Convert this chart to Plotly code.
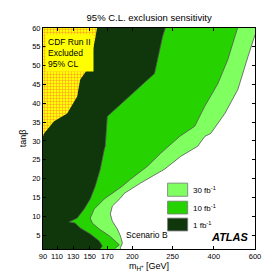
import numpy as np
import plotly.graph_objects as go

# ---- data (GeV, tan beta) ----
x_ticks = [90, 110, 130, 150, 170, 200, 250, 400, 600]
y_ticks = [5, 10, 15, 20, 25, 30, 35, 40, 45, 50, 55, 60]

# 30 fb-1 exclusion boundary (top -> bottom)
m30 = [600, 565.9, 517, 453.7, 389, 367, 341.4, 279.3, 240, 210, 190.4, 185.6, 176, 173.6, 176, 182, 185.6, 188, 185.6]
t30 = [58.2, 52.4, 43.7, 37.3, 32.0, 31.2, 28.6, 25.9, 22.5, 18.8, 16.1, 14.8, 12.7, 10.6, 8.7, 6.6, 4.8, 2.9, 1.6]

# 10 fb-1 exclusion boundary
m10 = [517, 502, 468, 419.5, 367, 330.5, 275.6, 235, 218.8, 197.6, 188, 166.6, 155.1, 150.6, 152.9, 160.9, 172.4, 179.6, 184.4, 178.4]
t10 = [60.3, 57.7, 51.6, 45.2, 39.2, 33.9, 31.2, 26.7, 23.3, 19.8, 18.0, 14.6, 11.9, 9.5, 8.2, 6.6, 4.8, 3.4, 2.4, 1.3]

# 1 fb-1 exclusion boundary
m1 = [241.3, 237.5, 227.5, 200, 172.4, 170, 167.7, 166.6, 162, 156.3, 150.6, 143.3, 134.8, 125, 132.4, 138.5, 150.6, 160.9, 164.3, 162]
t1 = [60.3, 57.7, 47.9, 42.6, 37.0, 36.5, 28.6, 27.8, 22.5, 18.0, 14.6, 11.9, 9.5, 8.5, 8.2, 6.9, 5.3, 3.4, 2.1, 1.3]

# CDF Run II excluded region boundary
m_cdf = [90, 91.4, 105.7, 122.5, 134.8, 138.5, 149.4, 155.1, 158.6]
t_cdf = [31.2, 32.0, 35.2, 37.3, 41.8, 46.3, 49.7, 55.8, 60.3]

# ---- non-linear mass axis scale ----
knots_gev = [70, 90, 110, 130, 150, 170, 200, 250, 400, 600, 800]
knots_u = [22, 36, 50, 66, 82.5, 100, 125, 165, 206, 247, 288]


def xmap(g):
    return np.interp(np.asarray(g, dtype=float), knots_gev, knots_u)


LIGHT = '#80ff60'
MED = '#26d300'
DARK = '#10360b'
EDGE = '#555555'

fig = go.Figure()


def region(m, t, color, top_right=False):
    if top_right:
        xs = [80, 700, 700] + list(m) + [m[-1], 80]
        ys = [62, 62, t[0]] + list(t) + [0, 0]
    else:
        xs = [80, m[0]] + list(m) + [m[-1], 80]
        ys = [62, 62] + list(t) + [0, 0]
    fig.add_trace(go.Scatter(x=xmap(xs), y=ys, mode='lines', fill='toself',
                             fillcolor=color, line=dict(color=EDGE, width=0.8),
                             hoverinfo='skip', showlegend=False))


region(m30, t30, LIGHT, top_right=True)
region(m10, t10, MED)
region(m1, t1, DARK)

# CDF hatched (grid) region
cx = [80] + m_cdf + [m_cdf[-1], 80]
cy = [t_cdf[0]] + t_cdf + [62, 62]
fig.add_trace(go.Scatter(x=xmap(cx), y=cy, mode='lines', fill='toself',
                         fillcolor='#ffff00',
                         fillpattern=dict(shape='-', fgcolor='#ff9430', bgcolor='#ffff00',
                                          size=3, solidity=0.34),
                         line=dict(color='#ffff00', width=0),
                         hoverinfo='skip', showlegend=False))
fig.add_trace(go.Scatter(x=xmap(cx), y=cy, mode='lines', fill='toself',
                         fillcolor='rgba(0,0,0,0)',
                         fillpattern=dict(shape='|', fgcolor='#ff9430', bgcolor='rgba(0,0,0,0)',
                                          size=3, solidity=0.34),
                         line=dict(color='rgba(0,0,0,0)', width=0),
                         hoverinfo='skip', showlegend=False))

font_main = 'Liberation Sans, Arial, sans-serif'

# legend boxes
leg = [(LIGHT, '30 fb<sup>-1</sup>', 18.8, 15.3),
       (MED, '10 fb<sup>-1</sup>', 14.0, 10.6),
       (DARK, '1 fb<sup>-1</sup>', 9.5, 6.1)]
for col, lab, y1, y0 in leg:
    fig.add_shape(type='rect', xref='x', yref='y', x0=160, x1=180, y0=y0, y1=y1,
                  fillcolor=col, line=dict(color='#777777', width=0.8))
    fig.add_annotation(x=183, y=(y0 + y1) / 2, xref='x', yref='y', text=lab,
                       showarrow=False, xanchor='left', yanchor='middle',
                       font=dict(family=font_main, size=8, color='black'))

fig.add_annotation(x=117, y=5.0, xref='x', yref='y', text='Scenario B', showarrow=False,
                   xanchor='left', yanchor='middle',
                   font=dict(family=font_main, size=8.5, color='black'))
fig.add_annotation(x=243, y=4.4, xref='x', yref='y', text='<b><i>ATLAS</i></b>', showarrow=False,
                   xanchor='right', yanchor='middle',
                   font=dict(family=font_main, size=11, color='black'))
fig.add_annotation(x=38, y=58.5, xref='x', yref='y',
                   text='CDF Run II<br>Excluded<br>95% CL', showarrow=False,
                   xanchor='left', yanchor='top', align='left', bgcolor='#ffff00',
                   borderpad=2,
                   font=dict(family=font_main, size=8.5, color='black'))

axis_common = dict(showline=True, linecolor='black', linewidth=1, mirror='ticks',
                   ticks='inside', ticklen=3, tickcolor='black', showgrid=False,
                   zeroline=False, tickfont=dict(family=font_main, size=7.5, color='black'))

fig.update_layout(
    width=273, height=273,
    margin=dict(l=35, r=26, t=20, b=30),
    paper_bgcolor='white', plot_bgcolor='white',
    title=dict(text='95% C.L. exclusion sensitivity', x=0.517, xanchor='center',
               y=0.975, yanchor='top',
               font=dict(family=font_main, size=9.5, color='black')),
    xaxis=dict(range=[36, 247], tickvals=list(xmap(x_ticks)), ticktext=[str(v) for v in x_ticks],
               title=dict(text='m<sub>H<sup>+</sup></sub> [GeV]', standoff=2,
                          font=dict(family=font_main, size=9, color='black')),
               **axis_common),
    yaxis=dict(range=[1.3, 60], tickvals=y_ticks,
               title=dict(text='tanβ', standoff=4,
                          font=dict(family=font_main, size=9, color='black')),
               **axis_common),
)

fig.write_html('out.html')
